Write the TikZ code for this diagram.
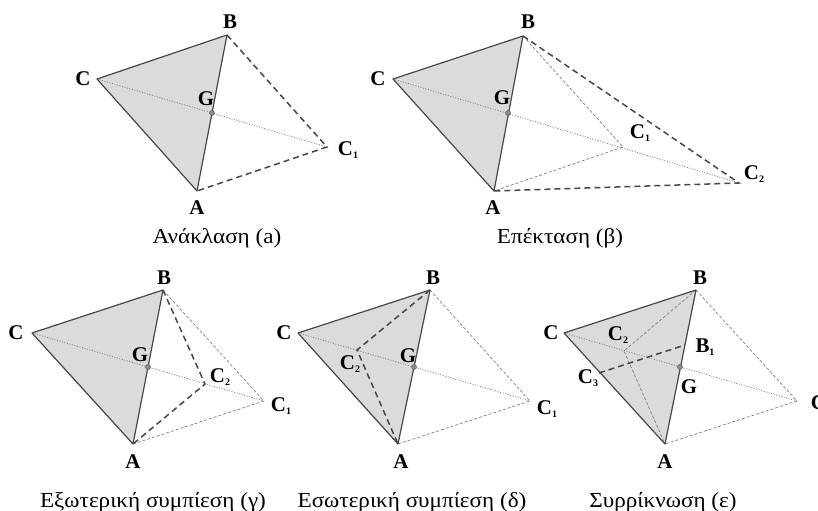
\documentclass[tikz,border=0pt]{standalone}
\usepackage{fontspec}
\setmainfont{Liberation Serif}
\newfontfamily\capfont[FakeStretch=1.08]{Liberation Serif}
\newcommand{\lsub}[1]{\raisebox{-0.35ex}{\fontsize{10}{10}\selectfont #1}}
\begin{document}
\begin{tikzpicture}[x=1bp,y=-1bp,
  edge/.style={draw=black!72,line width=1.2bp},
  newdash/.style={draw=black!72,line width=1.5bp,dash pattern=on 6bp off 4bp},
  olddash/.style={draw=black!50,line width=0.7bp,dash pattern=on 3bp off 2bp},
  dotl/.style={draw=black!50,line width=0.8bp,dash pattern=on 1bp off 1.6bp},
  gdot/.style={circle,fill=black!45,draw=black!65,line width=0.5bp,inner sep=0pt,minimum size=5bp},
  lab/.style={font=\fontsize{21}{21}\selectfont\bfseries,inner sep=0pt},
  captext/.style={font=\capfont\fontsize{21.5}{21.5}\selectfont,inner sep=0pt,anchor=base}]
\useasboundingbox (0,0) rectangle (818,511);
\fill[white] (0,0) rectangle (818,511);

% ---------------- (a) Reflection ----------------
\coordinate (aA) at (197,191);
\coordinate (aB) at (227,35);
\coordinate (aC) at (97,79);
\coordinate (aG) at (212,113);
\coordinate (aC1) at (327,147);
\fill[black!14] (aA) -- (aB) -- (aC) -- cycle;
\draw[dotl] (aC) -- (aC1);
\draw[newdash] (aB) -- (aC1) -- (aA);
\draw[edge,line join=round] (aA) -- (aB) -- (aC) -- cycle;
\node[gdot] (aGd) at (aG) {};
\node[lab] (aBl) at (230,22) {B};
\node[lab] (aCl) at (83,79) {C};
\node[lab] (aGl) at (206,99) {G};
\node[lab] (aAl) at (197,208) {A};
\node[lab] (aC1l) at (348,150) {C\lsub{1}};
\node[captext] (acap) at (217,244) {Ανάκλαση (a)};

% ---------------- (b) Expansion ----------------
\coordinate (bA) at (494,191);
\coordinate (bB) at (523,36);
\coordinate (bC) at (393,79);
\coordinate (bG) at (508,113);
\coordinate (bC1) at (623,147);
\coordinate (bC2) at (739,183);
\fill[black!14] (bA) -- (bB) -- (bC) -- cycle;
\draw[dotl] (bC) -- (bC2);
\draw[olddash] (bB) -- (bC1) -- (bA);
\draw[newdash] (bB) -- (bC2) -- (bA);
\draw[edge,line join=round] (bA) -- (bB) -- (bC) -- cycle;
\node[gdot] (bGd) at (bG) {};
\node[lab] (bBl) at (528,22) {B};
\node[lab] (bCl) at (378,79) {C};
\node[lab] (bGl) at (502,98) {G};
\node[lab] (bAl) at (493,208) {A};
\node[lab] (bC1l) at (640,133) {C\lsub{1}};
\node[lab] (bC2l) at (754,174) {C\lsub{2}};
\node[captext] (bcap) at (560,244) {Επέκταση (β)};

% ---------------- (c) Outside contraction ----------------
\coordinate (cA) at (133,444);
\coordinate (cB) at (163,290);
\coordinate (cC) at (32,333);
\coordinate (cG) at (148,367);
\coordinate (cC1) at (264,401);
\coordinate (cC2) at (205,384);
\fill[black!14] (cA) -- (cB) -- (cC) -- cycle;
\draw[dotl] (cC) -- (cC1);
\draw[olddash] (cB) -- (cC1) -- (cA);
\draw[newdash] (cB) -- (cC2) -- (cA);
\draw[edge,line join=round] (cA) -- (cB) -- (cC) -- cycle;
\node[gdot] (cGd) at (cG) {};
\node[lab] (cBl) at (164,278) {B};
\node[lab] (cCl) at (16,333) {C};
\node[lab] (cGl) at (140,355) {G};
\node[lab] (cAl) at (133,462) {A};
\node[lab] (cC2l) at (220,377) {C\lsub{2}};
\node[lab] (cC1l) at (281,406) {C\lsub{1}};
\node[captext] (ccap) at (153,507) {Εξωτερική συμπίεση (γ)};

% ---------------- (d) Inside contraction ----------------
\coordinate (dA) at (398,444);
\coordinate (dB) at (430,290);
\coordinate (dC) at (298,333);
\coordinate (dG) at (414,367);
\coordinate (dC1) at (530,401);
\coordinate (dC2) at (357,350);
\fill[black!14] (dA) -- (dB) -- (dC) -- cycle;
\draw[dotl] (dC) -- (dC1);
\draw[olddash] (dB) -- (dC1) -- (dA);
\draw[newdash] (dB) -- (dC2) -- (dA);
\draw[edge,line join=round] (dA) -- (dB) -- (dC) -- cycle;
\node[gdot] (dGd) at (dG) {};
\node[lab] (dBl) at (433,278) {B};
\node[lab] (dCl) at (284,333) {C};
\node[lab] (dGl) at (408,356) {G};
\node[lab] (dAl) at (401,462) {A};
\node[lab] (dC2l) at (350,364) {C\lsub{2}};
\node[lab] (dC1l) at (547,409) {C\lsub{1}};
\node[captext] (dcap) at (412,507) {Εσωτερική συμπίεση (δ)};

% ---------------- (e) Shrink ----------------
\coordinate (eA) at (665,444);
\coordinate (eB) at (696,290);
\coordinate (eC) at (564,333);
\coordinate (eG) at (680,367);
\coordinate (eC1) at (797,401);
\coordinate (eC2) at (624,351);
\coordinate (eB1) at (685,345);
\coordinate (eC3) at (599,373);
\fill[black!14] (eA) -- (eB) -- (eC) -- cycle;
\draw[dotl] (eC) -- (eC1);
\draw[olddash] (eB) -- (eC1) -- (eA);
\draw[olddash] (eB) -- (eC2) -- (eA);
\draw[newdash] (eC3) -- (eB1);
\draw[edge,line join=round] (eA) -- (eB) -- (eC) -- cycle;
\node[gdot] (eGd) at (eG) {};
\node[lab] (eBl) at (700,278) {B};
\node[lab] (eCl) at (551,333) {C};
\node[lab] (eC2l) at (618,335) {C\lsub{2}};
\node[lab] (eB1l) at (705,347) {B\lsub{1}};
\node[lab] (eC3l) at (588,378) {C\lsub{3}};
\node[lab] (eGl) at (689,387) {G};
\node[lab] (eAl) at (665,462) {A};
\node[lab] (eC1l) at (821,404) {C\lsub{1}};
\node[captext] (ecap) at (663,507) {Συρρίκνωση (ε)};
\end{tikzpicture}
\end{document}
